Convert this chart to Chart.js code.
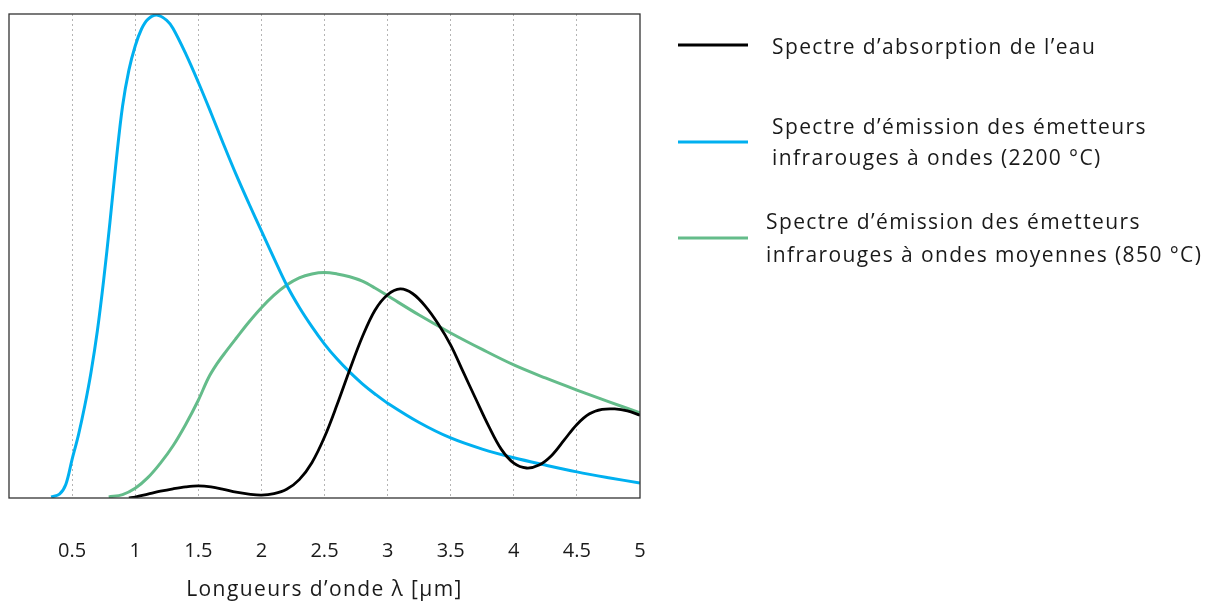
<!DOCTYPE html>
<html>
<head>
<meta charset="utf-8">
<script src="https://cdn.jsdelivr.net/npm/chart.js@4.4.0/dist/chart.umd.min.js"></script>
<style>
  html, body { margin: 0; padding: 0; background: #fff; }
  #wrap { width: 1205px; height: 602px; position: relative; }
</style>
</head>
<body>
<div id="wrap"><canvas id="myChart" width="1205" height="602"></canvas></div>
<script>
// DATA (wavelength in µm, relative intensity 0-100)

const xTicks = [0.5, 1, 1.5, 2, 2.5, 3, 3.5, 4, 4.5, 5];

const waterX = [0.95, 1.0, 1.1, 1.2, 1.3, 1.4, 1.5, 1.6, 1.7, 1.8, 1.9, 2.0, 2.1, 2.2, 2.3, 2.4, 2.5, 2.6, 2.7, 2.8, 2.9, 3.0, 3.1, 3.2, 3.3, 3.4, 3.5, 3.6, 3.7, 3.8, 3.9, 4.0, 4.1, 4.2, 4.3, 4.4, 4.5, 4.6, 4.7, 4.8, 4.9, 5.0];
const waterY = [0, 0.2, 0.8, 1.4, 1.9, 2.3, 2.5, 2.3, 1.8, 1.2, 0.8, 0.6, 0.9, 1.8, 3.8, 7.3, 12.6, 19.3, 26.5, 33.3, 38.8, 42.0, 43.2, 42.2, 39.6, 36.0, 31.6, 26.0, 20.4, 14.9, 10.1, 7.2, 6.2, 6.8, 8.8, 12.0, 15.2, 17.4, 18.3, 18.4, 18.0, 17.1];

const shortX = [0.334, 0.4, 0.45, 0.5, 0.55, 0.6, 0.65, 0.7, 0.75, 0.8, 0.85, 0.9, 0.95, 1.0, 1.05, 1.1, 1.17, 1.25, 1.3, 1.4, 1.5, 1.6, 1.7, 1.8, 1.9, 2.0, 2.1, 2.2, 2.3, 2.4, 2.5, 2.6, 2.7, 2.8, 2.9, 3.0, 3.25, 3.5, 3.75, 4.0, 4.25, 4.5, 4.75, 5.0];
const shortY = [0.2, 0.8, 2.8, 8.0, 13.0, 19.0, 26.0, 34.5, 45.0, 57.0, 69.8, 81.0, 88.4, 93.4, 96.9, 98.9, 99.8, 98.7, 97.0, 91.8, 85.9, 79.6, 73.1, 66.8, 60.9, 55.2, 49.5, 44.0, 39.4, 35.4, 31.8, 28.7, 26.0, 23.6, 21.5, 19.6, 15.6, 12.4, 10.1, 8.3, 6.8, 5.4, 4.2, 3.1];

const mediumX = [0.79, 0.9, 1.0, 1.1, 1.2, 1.3, 1.4, 1.5, 1.58, 1.65, 1.72, 1.8, 1.9, 2.0, 2.1, 2.2, 2.3, 2.4, 2.5, 2.6, 2.7, 2.8, 2.9, 3.0, 3.25, 3.5, 3.75, 4.0, 4.25, 4.5, 4.75, 5.0];
const mediumY = [0.2, 0.7, 2.0, 4.2, 7.2, 10.8, 15.2, 20.2, 24.8, 27.8, 30.3, 33.0, 36.3, 39.3, 41.9, 44.0, 45.5, 46.3, 46.6, 46.3, 45.7, 44.8, 43.4, 41.8, 37.8, 34.1, 30.7, 27.5, 24.8, 22.3, 19.9, 17.6];

const labels = [
  ["Spectre d\u2019absorption de l\u2019eau"],
  ["Spectre d\u2019\u00e9mission des \u00e9metteurs", "infrarouges \u00e0 ondes (2200 \u00b0C)"],
  ["Spectre d\u2019\u00e9mission des \u00e9metteurs", "infrarouges \u00e0 ondes moyennes (850 \u00b0C)"]
];
const axisTitle = "Longueurs d\u2019onde \u03bb [\u00b5m]";
const colors = ["#000000", "#00b0f0", "#64bc8a"];

function toPoints(xs, ys) {
  return xs.map((x, i) => ({ x: x, y: ys[i] }));
}

// PLOT BORDER, AXIS TITLE, LEGEND

const frame = {
  id: "frame",
  afterDraw(chart) {
    const ctx = chart.ctx;
    const a = chart.chartArea;
    ctx.save();
    ctx.strokeStyle = "#333";
    ctx.lineWidth = 1.3;
    ctx.strokeRect(a.left, a.top, a.right - a.left, a.bottom - a.top);

    ctx.font = "21px 'Open Sans'";
    ctx.letterSpacing = "1.4px";
    ctx.fillStyle = "#1a1a1a";
    ctx.textBaseline = "middle";
    ctx.textAlign = "center";
    ctx.fillText(axisTitle, (a.left + a.right) / 2, 590);

    // legend, drawn by hand to keep the reference layout
    const rows = [
      { y: 45, textX: 772, lines: [48] },
      { y: 142, textX: 772, lines: [128, 159] },
      { y: 238, textX: 766, lines: [223, 256] }
    ];
    ctx.textAlign = "left";
    rows.forEach((r, i) => {
      ctx.strokeStyle = colors[i];
      ctx.lineWidth = 3;
      ctx.beginPath();
      ctx.moveTo(678, r.y);
      ctx.lineTo(748, r.y);
      ctx.stroke();
      r.lines.forEach((ly, j) => ctx.fillText(labels[i][j], r.textX, ly));
    });
    ctx.restore();
  }
};

// DRAWING GRAPH

const ctx = document.getElementById("myChart").getContext("2d");

const myChart = new Chart(ctx, {
  type: "line",
  data: {
    datasets: [
      { label: labels[0].join(" "), data: toPoints(waterX, waterY), borderColor: colors[0], borderWidth: 2.8 },
      { label: labels[1].join(" "), data: toPoints(shortX, shortY), borderColor: colors[1], borderWidth: 3 },
      { label: labels[2].join(" "), data: toPoints(mediumX, mediumY), borderColor: colors[2], borderWidth: 3 }
    ]
  },
  options: {
    responsive: false,
    animation: false,
    events: [],
    elements: {
      point: { radius: 0 },
      line: { tension: 0.35, fill: false }
    },
    layout: { padding: { left: 9, right: 565, top: 14, bottom: 0 } },
    plugins: { legend: { display: false }, tooltip: { enabled: false } },
    scales: {
      x: {
        type: "linear",
        min: 0,
        max: 5,
        afterBuildTicks(scale) {
          scale.ticks = xTicks.map(v => ({ value: v }));
        },
        afterFit(scale) {
          scale.height = 104;
        },
        ticks: {
          padding: 41,
          color: "#1a1a1a",
          font: { family: "Open Sans", size: 20 },
          maxRotation: 0,
          callback: v => String(v)
        },
        grid: {
          color: ctx => (ctx.tick && ctx.tick.value === 5 ? "rgba(0,0,0,0)" : "#b4b4b4"),
          lineWidth: 1,
          drawTicks: false
        },
        border: { display: false, dash: [2, 3] }
      },
      y: {
        display: false,
        min: 0,
        max: 100
      }
    }
  },
  plugins: [frame]
});
</script>
</body>
</html>
